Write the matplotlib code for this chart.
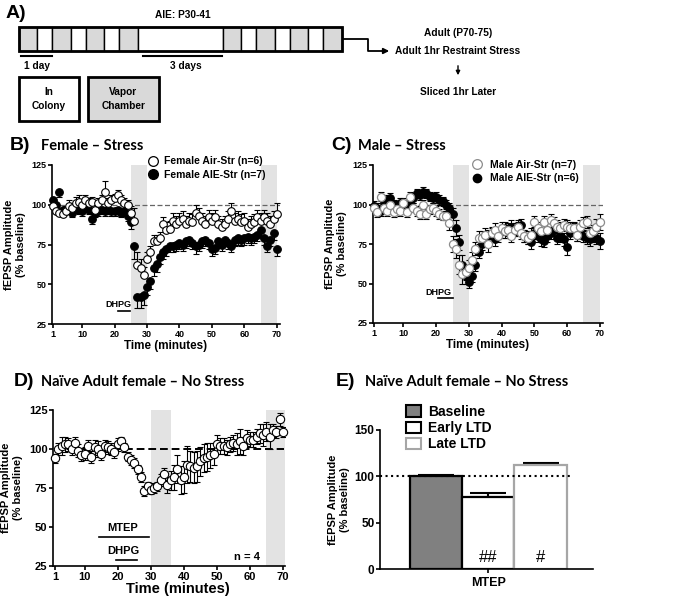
import numpy as np
import matplotlib
matplotlib.use('Agg')
import matplotlib.pyplot as plt
from matplotlib.lines import Line2D
from matplotlib.patches import Rectangle, Patch
from matplotlib import font_manager

plt.rcParams['font.family'] = ['Liberation Sans', 'DejaVu Sans']
plt.rcParams['font.weight'] = 'bold'
plt.rcParams['axes.labelweight'] = 'bold'

W, H = 694, 597

# ---- data ----
minutes = np.arange(1, 71)

# B) Female - Stress
b_air = [99, 96, 95, 94, 96, 99, 98, 101, 102, 100,
         103, 101, 102, 97, 101, 103, 108, 101, 103, 104,
         106, 103, 101, 100, 95, 90, 62, 60, 56, 66,
         70, 77, 77, 79, 88, 84, 85, 90, 88, 90,
         91, 88, 90, 89, 95, 93, 90, 88, 92, 90,
         92, 88, 86, 88, 91, 96, 90, 91, 89, 90,
         86, 88, 89, 92, 90, 92, 90, 88, 91, 94]
b_air_err = [3, 3, 3, 3, 3, 4, 3, 4, 4, 3,
             3, 3, 3, 3, 3, 3, 7, 3, 3, 3,
             3, 3, 3, 3, 4, 8, 8, 6, 5, 4,
             4, 4, 4, 4, 4, 5, 5, 5, 5, 5,
             5, 5, 5, 5, 5, 5, 5, 5, 5, 5,
             5, 5, 5, 5, 5, 5, 5, 5, 5, 5,
             5, 5, 5, 5, 5, 5, 5, 5, 5, 7]
b_aie = [103, 100, 108, 97, 97, 98, 95, 98, 97, 96,
         99, 97, 91, 95, 96, 97, 96, 97, 96, 96,
         97, 95, 96, 93, 89, 74, 42, 42, 43, 48,
         52, 60, 63, 67, 70, 72, 74, 74, 75, 76,
         75, 77, 78, 76, 74, 75, 77, 78, 76, 72,
         73, 77, 75, 78, 76, 74, 78, 79, 78, 79,
         80, 79, 80, 81, 84, 79, 74, 78, 82, 72]
b_aie_err = [3, 3, 3, 3, 3, 3, 3, 3, 3, 3,
             3, 3, 3, 3, 3, 3, 3, 3, 3, 3,
             3, 3, 3, 3, 4, 8, 7, 7, 6, 5,
             5, 5, 5, 4, 4, 4, 4, 4, 4, 4,
             4, 4, 4, 4, 5, 4, 4, 4, 4, 4,
             4, 4, 4, 4, 4, 4, 4, 4, 4, 4,
             4, 4, 4, 4, 4, 4, 4, 4, 4, 4]

# C) Male - Stress
c_air = [98, 95, 105, 98, 96, 100, 95, 97, 96, 101,
         95, 105, 98, 96, 94, 100, 94, 97, 98, 96,
         94, 93, 93, 88, 75, 72, 62, 56, 57, 60,
         65, 72, 79, 79, 81, 75, 82, 84, 80, 85,
         83, 84, 80, 84, 86, 82, 80, 79, 81, 89,
         85, 83, 89, 84, 90, 88, 86, 85, 87, 86,
         85, 85, 81, 86, 88, 89, 82, 83, 86, 89]
c_air_err = [3, 3, 3, 3, 3, 3, 3, 3, 3, 3,
             3, 3, 3, 3, 3, 3, 3, 3, 3, 3,
             3, 3, 3, 4, 5, 6, 6, 6, 5, 5,
             5, 4, 4, 4, 4, 5, 4, 4, 4, 4,
             4, 4, 4, 4, 4, 4, 4, 4, 4, 4,
             4, 4, 4, 4, 4, 4, 4, 4, 4, 4,
             4, 4, 4, 4, 4, 4, 4, 4, 5, 5]
c_aie = [99, 98, 96, 101, 103, 104, 100, 99, 101, 98,
         100, 102, 104, 107, 106, 108, 107, 105, 104, 105,
         103, 102, 100, 98, 94, 85, 76, 62, 55, 51,
         55, 62, 70, 75, 77, 80, 81, 78, 82, 83,
         85, 83, 86, 84, 85, 87, 80, 79, 76, 82,
         80, 78, 77, 80, 82, 84, 79, 80, 78, 73,
         82, 84, 81, 83, 80, 79, 78, 80, 79, 77]
c_aie_err = [3, 3, 3, 3, 3, 3, 3, 3, 3, 3,
             3, 3, 3, 3, 3, 3, 3, 3, 3, 3,
             3, 3, 3, 3, 4, 5, 5, 6, 5, 4,
             4, 4, 4, 4, 4, 4, 4, 4, 4, 4,
             4, 4, 4, 4, 4, 4, 4, 4, 4, 4,
             4, 4, 4, 4, 4, 4, 4, 4, 4, 5,
             4, 4, 4, 4, 4, 4, 4, 4, 4, 5]

# D) Naive adult female - MTEP
d_vals = [94, 100, 102, 103, 103, 100, 104, 99, 96, 97,
          102, 95, 101, 100, 97, 102, 101, 100, 98, 103,
          105, 101, 95, 93, 91, 87, 82, 73, 76, 74,
          75, 76, 80, 84, 77, 80, 82, 87, 80, 82,
          90, 89, 88, 89, 92, 94, 95, 96, 97, 103,
          102, 102, 101, 103, 104, 103, 105, 102, 107, 106,
          106, 108, 110, 109, 111, 108, 112, 111, 119, 111]
d_err = [3, 4, 6, 5, 4, 4, 4, 4, 4, 4,
         4, 4, 5, 5, 4, 4, 4, 4, 4, 4,
         3, 3, 3, 3, 3, 3, 3, 3, 3, 3,
         3, 3, 4, 4, 5, 6, 8, 9, 9, 10,
         12, 10, 10, 10, 9, 9, 9, 8, 7, 6,
         5, 5, 5, 5, 5, 7, 8, 6, 5, 5,
         5, 5, 6, 7, 6, 8, 4, 4, 4, 3]

# E) bar summary
bar_labels = ['Baseline', 'Early LTD', 'Late LTD']
bar_vals = [100, 78, 112]
bar_err = [1.5, 3.5, 2.5]
bar_marks = ['', '##', '#']

# panel A schedule: g = vapor chamber day, w = colony day, W = 3 days in colony
schedule = ['g', 'w', 'g', 'w', 'g', 'w', 'g', 'W', 'g', 'w', 'g', 'w', 'g', 'w', 'g']
cell_w = {'g': 18.5, 'w': 15, 'W': 85}

GREY_BAND = '#e3e3e3'

names = {f.name for f in font_manager.fontManager.ttflist}
if 'Liberation Sans Narrow' in names:
    fa = dict(family='Liberation Sans Narrow', fontweight='bold', fontsize=8.6)
else:
    fa = dict(family='Liberation Sans', fontweight='bold', fontsize=7.3)
title_font = dict(family=['Lato', 'DejaVu Sans'], fontweight='bold', fontsize=10.5)


def ftxt(x, y, s, **kw):
    fig.text(x / W, 1 - y / H, s, **kw)


def axes_px(x0, y0, x1, y1):
    return fig.add_axes([x0 / W, 1 - y1 / H, (x1 - x0) / W, (y1 - y0) / H])


fig = plt.figure(figsize=(W / 100, H / 100), dpi=100)

# ---------- A) protocol diagram ----------
axA = fig.add_axes([0, 1 - 130 / H, 1, 130 / H])
axA.set_xlim(0, W)
axA.set_ylim(130, 0)
axA.axis('off')
x = 19
for c in schedule:
    axA.add_patch(Rectangle((x, 27), cell_w[c], 24, facecolor='#d9d9d9' if c == 'g' else 'white',
                            edgecolor='k', lw=1.0))
    x += cell_w[c]
axA.add_patch(Rectangle((19, 27), x - 19, 24, fill=False, edgecolor='k', lw=2))
axA.plot([21, 52], [56, 56], 'k', lw=1.5)
axA.plot([143, 222], [56, 56], 'k', lw=1.5)
axA.text(37, 66, '1 day', ha='center', va='center', **fa)
axA.text(186, 66, '3 days', ha='center', va='center', **fa)
axA.text(183, 15, 'AIE: P30-41', ha='center', va='center', **fa)
axA.add_patch(Rectangle((19, 77), 60, 44, facecolor='white', edgecolor='k', lw=2))
axA.add_patch(Rectangle((88, 77), 71, 44, facecolor='#d9d9d9', edgecolor='k', lw=2))
axA.text(49, 99, 'In\nColony', ha='center', va='center', linespacing=1.5, **fa)
axA.text(123.5, 99, 'Vapor\nChamber', ha='center', va='center', linespacing=1.5, **fa)
axA.plot([344, 368, 368, 384], [39, 39, 51, 51], 'k', lw=1.3)
axA.annotate('', xy=(392, 51), xytext=(380, 51),
             arrowprops=dict(arrowstyle='-|>', color='k', lw=1.3, mutation_scale=8))
axA.text(458, 33, 'Adult (P70-75)', ha='center', va='center', **fa)
axA.text(458, 51, 'Adult 1hr Restraint Stress', ha='center', va='center', **fa)
axA.annotate('', xy=(458, 78), xytext=(458, 63),
             arrowprops=dict(arrowstyle='-|>', color='k', lw=1.0, mutation_scale=6))
axA.text(458, 92, 'Sliced 1hr Later', ha='center', va='center', **fa)
ftxt(6, 14, 'A)', fontsize=14, fontweight='bold', va='center')


def time_axes(ax, xlim, tick_size, xlab_size, ylab_size):
    ax.set_xlim(*xlim)
    ax.set_ylim(25, 125)
    ax.set_xticks([1, 10, 20, 30, 40, 50, 60, 70])
    ax.set_yticks([25, 50, 75, 100, 125])
    ax.spines[['top', 'right']].set_visible(False)
    ax.spines[['left', 'bottom']].set_linewidth(1.2)
    ax.tick_params(direction='out', length=3, width=1.2, labelsize=tick_size, pad=1)
    ax.set_xlabel('Time (minutes)', fontsize=xlab_size, labelpad=1)
    ax.set_ylabel('fEPSP Amplitude\n(% baseline)', fontsize=ylab_size, linespacing=1.25)


zeros = np.zeros(70)

# ---------- B) Female - Stress ----------
axB = axes_px(52, 165, 280, 324)
time_axes(axB, (0.7, 71), 6.5, 8.4, 8.0)
axB.axvspan(25, 30, color=GREY_BAND, lw=0, zorder=0)
axB.axvspan(65, 70, color=GREY_BAND, lw=0, zorder=0)
axB.axhline(100, color='#666666', ls='--', lw=0.9, dashes=(4, 2), zorder=1)
axB.errorbar(minutes, b_aie, yerr=[b_aie_err, zeros], fmt='none', ecolor='k',
             elinewidth=0.8, capsize=2.2, capthick=0.8, zorder=2)
axB.plot(minutes, b_aie, 'o', ms=5.5, mfc='k', mec='k', mew=0.8, zorder=3, clip_on=False)
axB.errorbar(minutes, b_air, yerr=[zeros, b_air_err], fmt='none', ecolor='k',
             elinewidth=0.8, capsize=2.2, capthick=0.8, zorder=4)
axB.plot(minutes, b_air, 'o', ms=5.5, mfc='white', mec='k', mew=0.8, zorder=5, clip_on=False)
axB.plot([20.9, 24.8], [33, 33], 'k', lw=1.2)
axB.text(21.2, 37.5, 'DHPG', ha='center', va='center', fontsize=6.5)
axB.legend(handles=[Line2D([], [], marker='o', ls='none', ms=7, mfc='white', mec='k', mew=0.9),
                    Line2D([], [], marker='o', ls='none', ms=7, mfc='k', mec='k')],
           labels=['Female Air-Str (n=6)', 'Female AIE-Str (n=7)'],
           loc='upper left', bbox_to_anchor=(0.40, 1.08), frameon=False, fontsize=7.5,
           handletextpad=0.6, labelspacing=0.35, borderaxespad=0, handlelength=1.0)
ftxt(10, 146, 'B)', fontsize=14, fontweight='bold', va='center')
ftxt(41, 146, 'Female – Stress', va='center', **title_font)

# ---------- C) Male - Stress ----------
axC = axes_px(373, 165, 603, 323)
time_axes(axC, (0.7, 71), 6.5, 8.4, 8.0)
axC.axvspan(25, 30, color=GREY_BAND, lw=0, zorder=0)
axC.axvspan(65, 70, color=GREY_BAND, lw=0, zorder=0)
axC.axhline(100, color='#666666', ls='--', lw=0.9, dashes=(4, 2), zorder=1)
axC.errorbar(minutes, c_aie, yerr=c_aie_err, fmt='none', ecolor='k',
             elinewidth=0.8, capsize=2.2, capthick=0.8, zorder=2)
axC.plot(minutes, c_aie, 'o', ms=5.5, mfc='k', mec='k', mew=0.8, zorder=3, clip_on=False)
axC.errorbar(minutes, c_air, yerr=c_air_err, fmt='none', ecolor='k',
             elinewidth=0.8, capsize=2.2, capthick=0.8, zorder=4)
axC.plot(minutes, c_air, 'o', ms=5.8, mfc='white', mec='#8c8c8c', mew=0.9, zorder=5, clip_on=False)
axC.plot([20.5, 25], [40.8, 40.8], 'k', lw=1.2)
axC.text(20.8, 44.5, 'DHPG', ha='center', va='center', fontsize=6.5)
axC.legend(handles=[Line2D([], [], marker='o', ls='none', ms=7, mfc='white', mec='#8c8c8c', mew=0.9),
                    Line2D([], [], marker='o', ls='none', ms=6, mfc='k', mec='k')],
           labels=['Male Air-Str (n=7)', 'Male AIE-Str (n=6)'],
           loc='upper left', bbox_to_anchor=(0.41, 1.06), frameon=False, fontsize=7.5,
           handletextpad=0.8, labelspacing=0.35, borderaxespad=0, handlelength=1.0)
ftxt(331, 146, 'C)', fontsize=14, fontweight='bold', va='center')
ftxt(358, 146, 'Male – Stress', va='center', **title_font)

# ---------- D) Naive female, MTEP ----------
axD = axes_px(53, 410, 285, 566)
time_axes(axD, (0.4, 70.6), 8, 10.5, 8.0)
axD.xaxis.set_label_coords(0.54, -0.1)
axD.axvspan(30, 36, color=GREY_BAND, lw=0, zorder=0)
axD.axvspan(65, 70.5, color=GREY_BAND, lw=0, zorder=0)
axD.axhline(100, xmin=0.01, xmax=0.995, color='k', ls='--', lw=1.4, dashes=(4, 2), zorder=1)
axD.errorbar(minutes, d_vals, yerr=d_err, fmt='none', ecolor='k',
             elinewidth=0.8, capsize=2.5, capthick=0.8, zorder=2)
axD.plot(minutes, d_vals, 'o', ms=6, mfc='white', mec='k', mew=0.8, zorder=3, clip_on=False)
axD.plot([14.3, 29.5], [43.5, 43.5], 'k', lw=1.2)
axD.text(21.6, 49.5, 'MTEP', ha='center', va='center', fontsize=8)
axD.plot([19.5, 25.8], [28.8, 28.8], 'k', lw=1.2)
axD.text(21.6, 34.6, 'DHPG', ha='center', va='center', fontsize=8)
axD.text(59, 30.5, 'n = 4', ha='center', va='center', fontsize=8)
ftxt(14, 382, 'D)', fontsize=14, fontweight='bold', va='center')
ftxt(41, 382, 'Naïve Adult female – No Stress', va='center', **title_font)

# ---------- E) bar summary ----------
axE = axes_px(380, 430, 593, 569)
pos = np.arange(len(bar_vals))
fills = ['#808080', 'white', 'white']
edges = ['k', 'k', '#a6a6a6']
axE.bar(pos, bar_vals, width=1.0, color=fills, edgecolor=edges, linewidth=1.6, zorder=2)
axE.errorbar(pos, bar_vals, yerr=[np.zeros(3), bar_err], fmt='none', ecolor='k',
             elinewidth=1.5, capsize=13, capthick=1.5, zorder=1)
axE.plot([-1.07, 2.62], [100, 100], color='k', ls=':', lw=1.5, zorder=3)
for p, m in zip(pos, bar_marks):
    axE.text(p, 12, m, ha='center', va='center', fontsize=12, fontweight='normal')
axE.set_xlim(-1.07, 3.0)
axE.set_ylim(0, 150)
axE.set_yticks([0, 50, 100, 150])
axE.set_xticks([1])
axE.set_xticklabels(['MTEP'])
axE.spines[['top', 'right']].set_visible(False)
axE.spines[['left', 'bottom']].set_linewidth(1.2)
axE.tick_params(direction='out', length=3, width=1.2, labelsize=8.5, pad=1)
axE.tick_params(axis='x', labelsize=9, pad=3)
axE.set_ylabel('fEPSP Amplitude\n(% baseline)', fontsize=8.0, linespacing=1.25, labelpad=3)
axE.legend(handles=[Patch(facecolor=f, edgecolor=e, lw=1.5) for f, e in zip(fills, edges)],
           labels=bar_labels, loc='upper left', bbox_to_anchor=(0.095, 1.22), frameon=False,
           fontsize=10, handlelength=1.1, handleheight=0.9, handletextpad=0.5,
           labelspacing=0.15, borderaxespad=0)
ftxt(336, 382, 'E)', fontsize=14, fontweight='bold', va='center')
ftxt(365, 382, 'Naïve Adult female – No Stress', va='center', **title_font)

fig.savefig('out.png', dpi=100)
